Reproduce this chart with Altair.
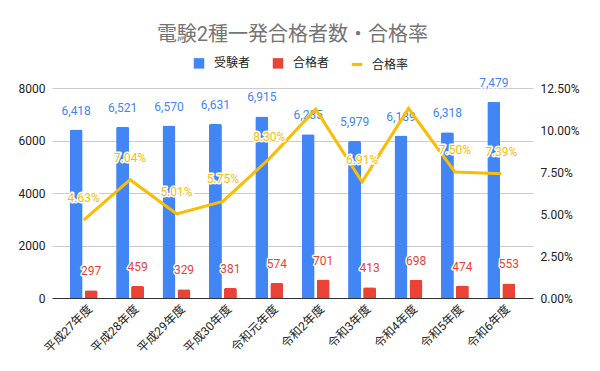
import altair as alt
import pandas as pd

categories = ["平成27年度", "平成28年度", "平成29年度", "平成30年度", "令和元年度",
              "令和2年度", "令和3年度", "令和4年度", "令和5年度", "令和6年度"]
applicants = [6418, 6521, 6570, 6631, 6915, 6235, 5979, 6189, 6318, 7479]
passers = [297, 459, 329, 381, 574, 701, 413, 698, 474, 553]
rates = [0.0463, 0.0704, 0.0501, 0.0575, 0.0830, 0.1124, 0.0691, 0.1128, 0.0750, 0.0739]
rate_labels = ["4.63%", "7.04%", "5.01%", "5.75%", "8.30%", "", "6.91%", "", "7.50%", "7.39%"]
series_names = ["受験者", "合格者", "合格率"]
series_colors = ["#4285F4", "#EA4335", "#FBBC04"]

FONT = "Roboto, Noto Sans CJK JP"
BLUE, RED, YELLOW = series_colors

df = pd.DataFrame({
    "cat": categories,
    "applicants": applicants,
    "passers": passers,
    "rate": rates,
    "rate_label": rate_labels,
})
legend_df = pd.DataFrame({"series": series_names})

x = alt.X("cat:N", sort=categories,
          scale=alt.Scale(paddingInner=0.2, paddingOuter=0.283),
          axis=alt.Axis(title=None, labelAngle=-45, labelAlign="right", labelBaseline="top",
                        labelPadding=5, labelOffset=3, ticks=False, domainColor="#333333",
                        labelColor="#222222", labelFontSize=12, labelFont=FONT))

base = alt.Chart(df)

y_left = alt.Y("applicants:Q", scale=alt.Scale(domain=[0, 8000], nice=False),
               axis=alt.Axis(title=None, values=[0, 2000, 4000, 6000, 8000], format="d",
                             domain=False, ticks=False, labelPadding=7,
                             gridColor="#cccccc", labelColor="#222222",
                             labelFontSize=12, labelFont=FONT))

blue_bars = base.mark_bar(size=13, xOffset=-7.5, color=BLUE,
                          cornerRadiusTopLeft=2, cornerRadiusTopRight=2).encode(x=x, y=y_left)
red_bars = base.mark_bar(size=13, xOffset=7.5, color=RED,
                         cornerRadiusTopLeft=2, cornerRadiusTopRight=2).encode(
    x=x, y=alt.Y("passers:Q"))


def labels(field, color, dx, dy, fmt):
    tf = alt.Text(field, format=fmt)
    halo = base.mark_text(font=FONT, fontSize=12, dx=dx, dy=dy, baseline="middle",
                          stroke="white", strokeWidth=3, strokeJoin="round",
                          fill="white").encode(x=x, y=alt.Y(f"{field}:Q"), text=tf)
    txt = base.mark_text(font=FONT, fontSize=12, dx=dx, dy=dy, baseline="middle",
                         color=color).encode(x=x, y=alt.Y(f"{field}:Q"), text=tf)
    return halo + txt


left = alt.layer(blue_bars, red_bars,
                 labels("applicants", BLUE, -7.5, -19, ","),
                 labels("passers", RED, 7.5, -19, ","))

y_right = alt.Y("rate:Q", scale=alt.Scale(domain=[0, 0.125], nice=False),
                axis=alt.Axis(title=None, orient="right",
                              values=[0, 0.025, 0.05, 0.075, 0.1, 0.125], format=".2%",
                              domain=False, ticks=False, grid=False, labelPadding=7,
                              labelColor="#222222", labelFontSize=12, labelFont=FONT))

line = base.mark_line(color=YELLOW, strokeWidth=3).encode(x=x, y=y_right)
rate_halo = base.mark_text(font=FONT, fontSize=12, dy=-22, baseline="middle",
                           stroke="white", strokeWidth=3, strokeJoin="round",
                           fill="white").encode(x=x, y=alt.Y("rate:Q"), text="rate_label:N")
rate_text = base.mark_text(font=FONT, fontSize=12, dy=-22, baseline="middle",
                           color=YELLOW).encode(x=x, y=alt.Y("rate:Q"), text="rate_label:N")

right = alt.layer(line, rate_halo, rate_text)

leg = alt.Legend(title=None, orient="none", direction="horizontal",
                 legendX=141, legendY=-31, symbolSize=110, symbolOpacity=1,
                 labelFont=FONT, labelFontSize=12, labelColor="#222222",
                 columnPadding=18, labelOffset=9)

legend_layer = alt.Chart(legend_df).mark_point(filled=True, size=0, opacity=1).encode(
    color=alt.Color("series:N", sort=series_names,
                    scale=alt.Scale(domain=series_names, range=series_colors), legend=leg),
    shape=alt.Shape("series:N", sort=series_names,
                    scale=alt.Scale(domain=series_names,
                                    range=["square", "square", "M-1,-0.3L1,-0.3L1,0.3L-1,0.3Z"]),
                    legend=leg),
)

chart = alt.layer(left, right, legend_layer).resolve_scale(y="independent").properties(
    width=481, height=210,
    padding={"left": 10, "top": 17, "right": 5, "bottom": 5},
    title=alt.TitleParams("電験2種一発合格者数・合格率", anchor="middle", fontSize=20,
                          color="#757575", font=FONT, fontWeight="normal", offset=12),
).configure_view(stroke=None)

chart.save("out.html", embed_options={"renderer": "svg", "actions": False})
